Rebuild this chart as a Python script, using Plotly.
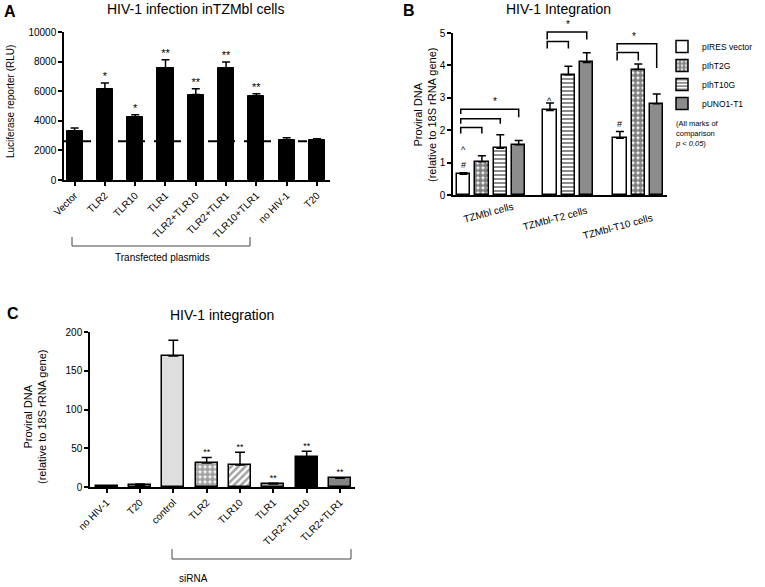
import plotly.graph_objects as go

# ---- panel A : luciferase reporter
a_labels = ["Vector", "TLR2", "TLR10", "TLR1", "TLR2+TLR10", "TLR2+TLR1", "TLR10+TLR1", "no HIV-1", "T20"]
a_values = [3330, 6150, 4250, 7570, 5770, 7550, 5650, 2680, 2720]
a_errors = [180, 400, 160, 560, 400, 430, 180, 180, 70]
a_stars = ["", "*", "*", "**", "**", "**", "**", "", ""]
a_baseline = 2610

# ---- panel B : integration per cell line
b_groups = ["TZMbl cells", "TZMbl-T2 cells", "TZMbl-T10 cells"]
b_series = ["pIRES vector", "pIhT2G", "pIhT10G", "pUNO1-T1"]
b_pires = [0.64, 2.61, 1.75]
b_pires_err = [0.05, 0.23, 0.21]
b_t2g = [1.03, None, 3.87]
b_t2g_err = [0.18, None, 0.17]
b_t10g = [1.44, 3.71, None]
b_t10g_err = [0.42, 0.26, None]
b_uno = [1.55, 4.09, 2.82]
b_uno_err = [0.13, 0.30, 0.30]
b_mark_text = ["^", "#", "^", "#"]
b_mark_group = [0, 0, 1, 2]
b_mark_y = [1.39, 0.93, 2.89, 2.20]

# ---- panel C : siRNA
c_labels = ["no HIV-1", "T20", "control", "TLR2", "TLR10", "TLR1", "TLR2+TLR10", "TLR2+TLR1"]
c_values = [1.3, 2.2, 169, 31, 28.4, 3.9, 38.3, 11.2]
c_errors = [0.4, 1.7, 20.5, 7, 16.3, 1.1, 7.7, 0.8]
c_stars = ["", "", "", "**", "**", "**", "**", "**"]

FONT = "Liberation Sans, Arial, sans-serif"
W, H = 765, 587

def px(x):
    return x / W

def py(y):
    return 1 - y / H

fig = go.Figure()

# panel A bars
fig.add_trace(go.Bar(x=a_labels, y=a_values, xaxis="x", yaxis="y", width=0.53,
                     marker=dict(color="black", line=dict(color="black", width=1)),
                     error_y=dict(type="data", symmetric=False, array=a_errors, arrayminus=[0] * len(a_errors),
                                  color="black", thickness=1.5, width=4),
                     showlegend=False))
fig.add_trace(go.Scatter(x=a_labels, y=[v + e for v, e in zip(a_values, a_errors)], text=a_stars,
                         mode="text", textposition="top center", textfont=dict(size=11, color="black"),
                         xaxis="x", yaxis="y", cliponaxis=False, showlegend=False))

# panel B bars
b_start = [0, 4.7, 8.5]
b_data = [(b_pires, b_pires_err), (b_t2g, b_t2g_err), (b_t10g, b_t10g_err), (b_uno, b_uno_err)]
b_styles = [
    dict(color="white"),
    dict(color="white", pattern=dict(shape=".", fgcolor="black", bgcolor="white", size=5, solidity=0.75)),
    dict(color="white", pattern=dict(shape="-", fgcolor="black", bgcolor="white", size=4, solidity=0.45)),
    dict(color="#8c8c8c"),
]
slots = [0, 0, 0]
b_pos = {}
for s, (vals, errs) in enumerate(b_data):
    xs, ys, es = [], [], []
    for g, v in enumerate(vals):
        if v is None:
            continue
        xs.append(b_start[g] + slots[g])
        b_pos[(s, g)] = b_start[g] + slots[g]
        slots[g] += 1
        ys.append(v)
        es.append(errs[g])
    fig.add_trace(go.Bar(x=xs, y=ys, name=b_series[s], xaxis="x2", yaxis="y2", width=0.72,
                         marker=dict(line=dict(color="black", width=1.5), **b_styles[s]),
                         error_y=dict(type="data", symmetric=False, array=es, arrayminus=[0] * len(es),
                                      color="black", thickness=1.5, width=4)))

for t, g, y in zip(b_mark_text, b_mark_group, b_mark_y):
    fig.add_annotation(x=b_pos[(0, g)], y=y, xref="x2", yref="y2", text=t, showarrow=False,
                       font=dict(size=9, color="black"))

# panel C bars
c_colors = ["#9a9a9a", "#d9d9d9", "#dedede", "white", "white", "white", "black", "#858585"]
c_shapes = ["", "", "", ".", "/", "-", "", ""]
c_solid = [0.5, 0.5, 0.5, 0.75, 0.5, 0.45, 0.5, 0.5]
fig.add_trace(go.Bar(x=c_labels, y=c_values, xaxis="x3", yaxis="y3", width=0.66,
                     marker=dict(color=c_colors, line=dict(color="black", width=1.5),
                                 pattern=dict(shape=c_shapes, fgcolor="black", bgcolor="white", size=5, solidity=c_solid)),
                     error_y=dict(type="data", symmetric=False, array=c_errors, arrayminus=[0] * len(c_errors),
                                  color="black", thickness=1.5, width=5),
                     showlegend=False))
fig.add_trace(go.Scatter(x=c_labels, y=[v + e for v, e in zip(c_values, c_errors)], text=c_stars,
                         mode="text", textposition="top center", textfont=dict(size=9, color="black"),
                         xaxis="x3", yaxis="y3", cliponaxis=False, showlegend=False))

# dashed baseline A
fig.add_shape(type="line", xref="x domain", yref="y", x0=0, x1=1, y0=a_baseline, y1=a_baseline,
              line=dict(color="black", width=2, dash="dash"))

# comparison brackets B  (left bar, right bar, top, left leg bottom, right leg bottom)
xr2 = [-0.57, 11.06]
yr2 = [0, 5]

def fx2(x):
    return (x - xr2[0]) / (xr2[1] - xr2[0])

def fy2(y):
    return (y - yr2[0]) / (yr2[1] - yr2[0])

brackets = [
    ((0, 0), (1, 0), 2.08, 1.90, 1.90),
    ((0, 0), (2, 0), 2.35, 2.20, 2.20),
    ((0, 0), (3, 0), 2.65, 2.50, 2.40),
    ((0, 1), (2, 1), 4.74, 4.52, 4.52),
    ((0, 1), (3, 1), 5.03, 4.80, 4.80),
    ((0, 2), (1, 2), 4.40, 4.15, 4.15),
    ((0, 2), (3, 2), 4.67, 4.45, 3.92),
]
for left, right, top, lb, rb in brackets:
    x0 = fx2(b_pos[left] - 0.15)
    x1 = fx2(b_pos[right])
    fig.add_shape(type="path", xref="x2 domain", yref="y2 domain",
                  path=f"M{x0},{fy2(lb)} L{x0},{fy2(top)} L{x1},{fy2(top)} L{x1},{fy2(rb)}",
                  line=dict(color="black", width=1.5))
for left, right, top in [((0, 0), (3, 0), 2.65), ((0, 1), (3, 1), 5.03), ((0, 2), (3, 2), 4.67)]:
    mid = (b_pos[left] + b_pos[right]) / 2
    fig.add_annotation(x=fx2(mid), y=fy2(top), xref="x2 domain", yref="y2 domain", text="*",
                       showarrow=False, yanchor="bottom", font=dict(size=10, color="black"))

# group labels B
for g, name in enumerate(b_groups):
    fig.add_annotation(x=px([489, 555, 618][g]), y=py([213, 219, 227][g]), xref="paper", yref="paper",
                       xanchor="center", yanchor="middle",
                       text=name, textangle=-15, showarrow=False, font=dict(size=10, color="black"))

# bottom brackets A and C
fig.add_shape(type="path", xref="paper", yref="paper",
              path=f"M{px(72)},{py(237)} L{px(72)},{py(246)} L{px(250)},{py(246)} L{px(250)},{py(237)}",
              line=dict(color="#444", width=1))
fig.add_shape(type="path", xref="paper", yref="paper",
              path=f"M{px(172)},{py(549)} L{px(172)},{py(559)} L{px(351)},{py(559)} L{px(351)},{py(549)}",
              line=dict(color="#444", width=1))

ann = [
    (10, 11, "<b>A</b>", 16, 0), (409, 10, "<b>B</b>", 16, 0), (13, 313, "<b>C</b>", 16, 0),
    (195, 9, "HIV-1 infection inTZMbl cells", 14, 0),
    (558, 9, "HIV-1 Integration", 14, 0),
    (222, 315, "HIV-1 integration", 14, 0),
    (10, 102, "Luciferase reporter (RLU)", 10, -90),
    (425, 115, "Proviral DNA<br>(relative to 18S rRNA gene)", 11, -90),
    (35, 417, "Proviral DNA<br>(relative to 18S rRNA gene)", 11, -90),
    (162, 257, "Transfected plasmids", 10, 0),
    (193, 578, "siRNA", 10, 0),
]
for x, y, t, s, a in ann:
    fig.add_annotation(x=px(x), y=py(y), xref="paper", yref="paper", text=t, textangle=a,
                       xanchor="center", yanchor="middle",
                       showarrow=False, font=dict(size=s, color="black"))
fig.add_annotation(x=px(673), y=py(117), xref="paper", yref="paper", xanchor="left", yanchor="top",
                   align="left", showarrow=False, font=dict(size=7.5, color="black"),
                   text="(All marks of<br>comparison<br><i>p &lt; 0.05</i>)")

axis_style = dict(showline=True, linecolor="black", linewidth=1.5, showgrid=False, zeroline=False,
                  ticks="outside", ticklen=4, tickwidth=1.5, tickcolor="black", automargin=False,
                  tickfont=dict(size=10, color="black"))

fig.update_layout(
    width=W, height=H, margin=dict(l=0, r=0, t=0, b=0, autoexpand=False),
    paper_bgcolor="white", plot_bgcolor="white", font=dict(family=FONT, color="black"),
    bargap=0,
    xaxis=dict(domain=[px(64), px(330)], type="category", range=[-0.35, 8.43], tickangle=-45, **axis_style),
    yaxis=dict(domain=[py(180), py(32)], range=[0, 10000], tickvals=[0, 2000, 4000, 6000, 8000, 10000],
               tickformat="d", **axis_style),
    xaxis2=dict(domain=[px(453), px(667)], range=xr2, showline=True, linecolor="black", linewidth=1.5,
                showgrid=False, zeroline=False, showticklabels=False, ticks="", automargin=False, anchor="y2"),
    yaxis2=dict(domain=[py(195), py(33)], range=yr2, dtick=1, anchor="x2", **axis_style),
    xaxis3=dict(domain=[px(90), px(355)], type="category", range=[-0.5, 7.45], tickangle=-45, anchor="y3", **axis_style),
    yaxis3=dict(domain=[py(487), py(332)], range=[0, 200], dtick=50, anchor="x3", **axis_style),
    legend=dict(x=px(662), y=py(32), xanchor="left", yanchor="top", font=dict(size=8.5, color="black"),
                bgcolor="rgba(0,0,0,0)"),
)

# the page body has a default 8px margin; drop it so the figure fills the window
fig.write_html("out.html", config={"displayModeBar": False},
               post_script="document.body.style.margin = '0px';")
